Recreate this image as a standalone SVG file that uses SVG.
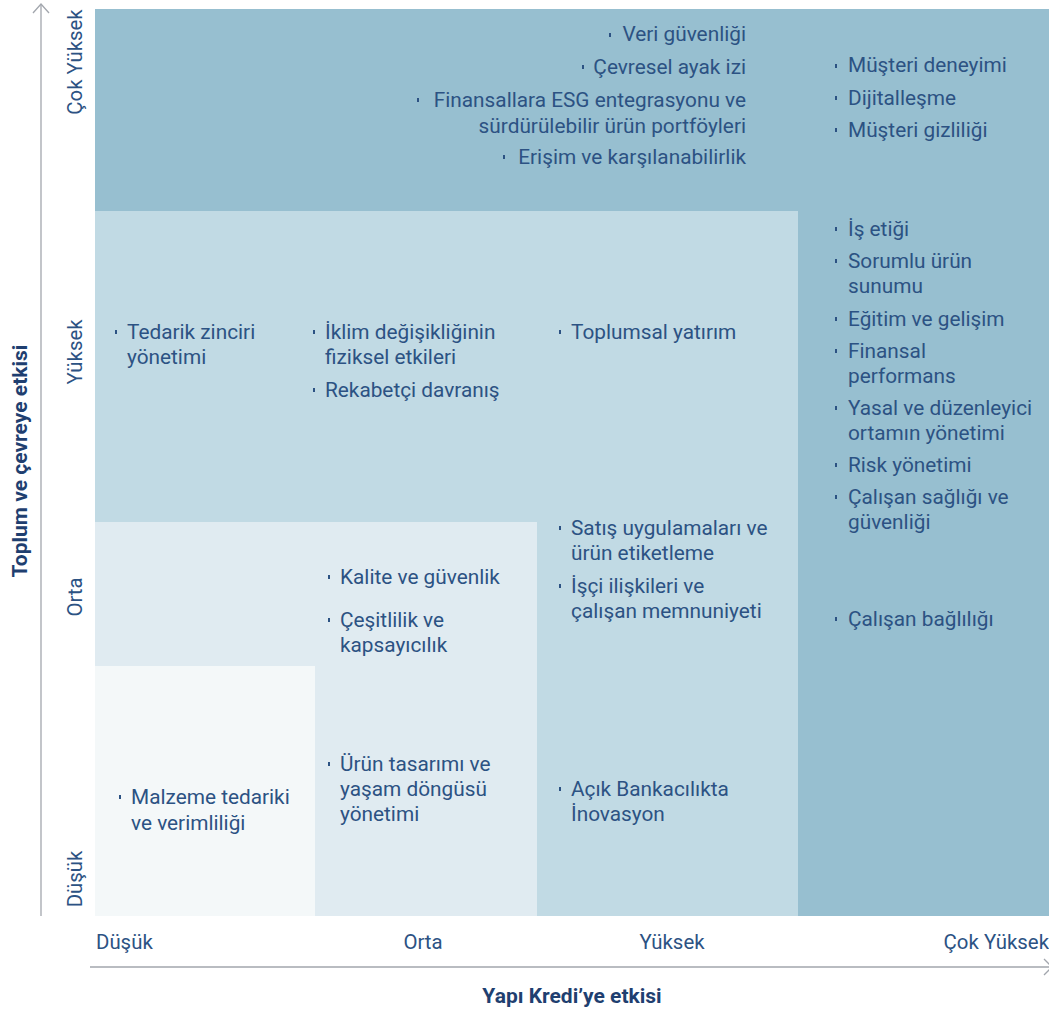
<svg xmlns="http://www.w3.org/2000/svg" width="1049" height="1009" viewBox="0 0 1049 1009">
  <defs>
    <style>
      .lbl { font-family: Roboto, "Liberation Sans", sans-serif; font-size: 20.8px; fill: #2c5283; }
      .end { text-anchor: end; }
      .tick { font-family: Roboto, "Liberation Sans", sans-serif; font-size: 20.4px; fill: #2c5283; }
      .title { font-family: Roboto, "Liberation Sans", sans-serif; font-size: 21px; font-weight: bold; fill: #1f3f70; }
      .axis { stroke: #a2a6ad; stroke-width: 1.3; fill: none; }
      .dot { fill: #2c5283; }
    </style>
  </defs>

  <!-- shaded zones of the matrix -->
  <g id="zones">
    <rect id="zone-very-high" x="95" y="9" width="954" height="907" fill="#97bfd0"/>
    <rect id="zone-high" x="95" y="211" width="703" height="705" fill="#c1dae4"/>
    <path id="zone-medium" d="M95 522 H537 V916 H315 V666 H95 Z" fill="#e0ebf1"/>
    <rect id="zone-low" x="95" y="666" width="220" height="250" fill="#f4f8f9"/>
  </g>

  <!-- axes -->
  <g id="connectors">
    <line class="axis" x1="41" y1="4" x2="41" y2="916"/>
    <polyline class="axis" points="33,13 41,4 49,13"/>
    <line class="axis" x1="90" y1="967" x2="1052" y2="967"/>
    <polyline class="axis" points="1044,959 1052,967 1044,975"/>
  </g>

  <!-- axis tick labels -->
  <g id="y-ticks">
    <text class="tick" text-anchor="middle" transform="translate(82,62) rotate(-90)">Çok Yüksek</text>
    <text class="tick" text-anchor="middle" transform="translate(82,352) rotate(-90)">Yüksek</text>
    <text class="tick" text-anchor="middle" transform="translate(82,597) rotate(-90)">Orta</text>
    <text class="tick" text-anchor="middle" transform="translate(82,879) rotate(-90)">Düşük</text>
  </g>
  <g id="x-ticks">
    <text class="tick" x="96" y="949">Düşük</text>
    <text class="tick" x="423" y="949" text-anchor="middle">Orta</text>
    <text class="tick" x="672" y="949" text-anchor="middle">Yüksek</text>
    <text class="tick" x="1049" y="949" text-anchor="end">Çok Yüksek</text>
  </g>
  <g id="axis-titles">
    <text class="title" text-anchor="middle" transform="translate(27,461) rotate(-90)">Toplum ve çevreye etkisi</text>
    <text class="title" x="572" y="1003" text-anchor="middle">Yapı Kredi’ye etkisi</text>
  </g>

  <!-- very high impact on society, mid-range for the bank -->
  <g id="top-band">
    <rect class="dot" x="609" y="33" width="2" height="4"/>
    <text class="lbl end" x="746" y="41">Veri güvenliği</text>
    <rect class="dot" x="582" y="65" width="2" height="4"/>
    <text class="lbl end" x="746" y="74">Çevresel ayak izi</text>
    <rect class="dot" x="417" y="98" width="2" height="4"/>
    <text class="lbl end" x="746" y="107">Finansallara ESG entegrasyonu ve</text>
    <text class="lbl end" x="746" y="133">sürdürülebilir ürün portföyleri</text>
    <rect class="dot" x="503" y="155" width="2" height="4"/>
    <text class="lbl end" x="746" y="164">Erişim ve karşılanabilirlik</text>
  </g>

  <!-- very high impact on the bank -->
  <g id="right-column">
    <rect class="dot" x="835" y="64" width="2" height="4"/>
    <text class="lbl" x="848" y="72">Müşteri deneyimi</text>
    <rect class="dot" x="835" y="96" width="2" height="4"/>
    <text class="lbl" x="848" y="105">Dijitalleşme</text>
    <rect class="dot" x="835" y="128" width="2" height="4"/>
    <text class="lbl" x="848" y="137">Müşteri gizliliği</text>
    <rect class="dot" x="835" y="227" width="2" height="4"/>
    <text class="lbl" x="848" y="236">İş etiği</text>
    <rect class="dot" x="835" y="259" width="2" height="4"/>
    <text class="lbl" x="848" y="268">Sorumlu ürün</text>
    <text class="lbl" x="848" y="293">sunumu</text>
    <rect class="dot" x="835" y="317" width="2" height="4"/>
    <text class="lbl" x="848" y="326">Eğitim ve gelişim</text>
    <rect class="dot" x="835" y="349" width="2" height="4"/>
    <text class="lbl" x="848" y="358">Finansal</text>
    <text class="lbl" x="848" y="383">performans</text>
    <rect class="dot" x="835" y="406" width="2" height="4"/>
    <text class="lbl" x="848" y="415">Yasal ve düzenleyici</text>
    <text class="lbl" x="848" y="440">ortamın yönetimi</text>
    <rect class="dot" x="835" y="463" width="2" height="4"/>
    <text class="lbl" x="848" y="472">Risk yönetimi</text>
    <rect class="dot" x="835" y="495" width="2" height="4"/>
    <text class="lbl" x="848" y="504">Çalışan sağlığı ve</text>
    <text class="lbl" x="848" y="529">güvenliği</text>
    <rect class="dot" x="835" y="617" width="2" height="4"/>
    <text class="lbl" x="848" y="626">Çalışan bağlılığı</text>
  </g>

  <!-- high impact on society -->
  <g id="row-high">
    <rect class="dot" x="115" y="330" width="2" height="4"/>
    <text class="lbl" x="127" y="339">Tedarik zinciri</text>
    <text class="lbl" x="127" y="364">yönetimi</text>
    <rect class="dot" x="313" y="330" width="2" height="4"/>
    <text class="lbl" x="325" y="339">İklim değişikliğinin</text>
    <text class="lbl" x="325" y="364">fiziksel etkileri</text>
    <rect class="dot" x="313" y="388" width="2" height="4"/>
    <text class="lbl" x="325" y="397">Rekabetçi davranış</text>
    <rect class="dot" x="559" y="330" width="2" height="4"/>
    <text class="lbl" x="571" y="339">Toplumsal yatırım</text>
  </g>

  <!-- medium impact on society -->
  <g id="row-medium">
    <rect class="dot" x="328" y="575" width="2" height="4"/>
    <text class="lbl" x="340" y="584">Kalite ve güvenlik</text>
    <rect class="dot" x="328" y="618" width="2" height="4"/>
    <text class="lbl" x="340" y="627">Çeşitlilik ve</text>
    <text class="lbl" x="340" y="652">kapsayıcılık</text>
    <rect class="dot" x="559" y="526" width="2" height="4"/>
    <text class="lbl" x="571" y="535">Satış uygulamaları ve</text>
    <text class="lbl" x="571" y="560">ürün etiketleme</text>
    <rect class="dot" x="559" y="584" width="2" height="4"/>
    <text class="lbl" x="571" y="593">İşçi ilişkileri ve</text>
    <text class="lbl" x="571" y="618">çalışan memnuniyeti</text>
  </g>

  <!-- low impact on society -->
  <g id="row-low">
    <rect class="dot" x="119" y="795" width="2" height="4"/>
    <text class="lbl" x="131" y="804">Malzeme tedariki</text>
    <text class="lbl" x="131" y="830">ve verimliliği</text>
    <rect class="dot" x="328" y="762" width="2" height="4"/>
    <text class="lbl" x="340" y="771">Ürün tasarımı ve</text>
    <text class="lbl" x="340" y="796">yaşam döngüsü</text>
    <text class="lbl" x="340" y="821">yönetimi</text>
    <rect class="dot" x="559" y="787" width="2" height="4"/>
    <text class="lbl" x="571" y="796">Açık Bankacılıkta</text>
    <text class="lbl" x="571" y="821">İnovasyon</text>
  </g>
</svg>
